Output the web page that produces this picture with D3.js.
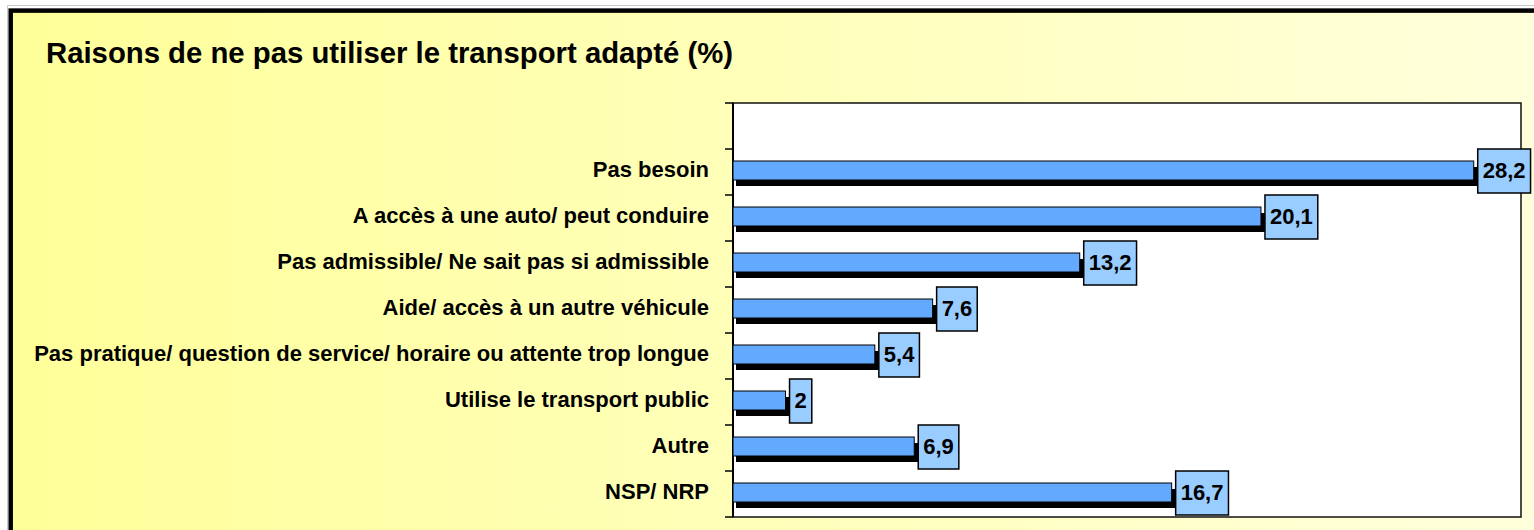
<!DOCTYPE html>
<html>
<head>
<meta charset="utf-8">
<script src="https://cdn.jsdelivr.net/npm/d3@7"></script>
<style>
  body { margin: 0; background: #fff; }
  text { font-family: "Liberation Sans", Arial, sans-serif; font-weight: bold; fill: #000; }
</style>
</head>
<body>
<svg id="chart" width="1534" height="530"></svg>
<script>
const title = "Raisons de ne pas utiliser le transport adapté (%)";
const categories = [
  "Pas besoin",
  "A accès à une auto/ peut conduire",
  "Pas admissible/ Ne sait pas si admissible",
  "Aide/ accès à un autre véhicule",
  "Pas pratique/ question de service/ horaire ou attente trop longue",
  "Utilise le transport public",
  "Autre",
  "NSP/ NRP"
];
const values = [28.2, 20.1, 13.2, 7.6, 5.4, 2, 6.9, 16.7];
const valueLabels = ["28,2", "20,1", "13,2", "7,6", "5,4", "2", "6,9", "16,7"];

const svg = d3.select("#chart");
const plot = { left: 733, right: 1521, top: 103, bottom: 517 };

// background gradient + frame
const defs = svg.append("defs");
const grad = defs.append("linearGradient").attr("id", "bg").attr("x1", "0").attr("x2", "1");
grad.append("stop").attr("offset", "0").attr("stop-color", "#ffff99");
grad.append("stop").attr("offset", "1").attr("stop-color", "#ffffdf");

svg.append("rect")
  .attr("x", 7.5).attr("y", 5.5).attr("width", 1600).attr("height", 600)
  .attr("fill", "none").attr("stroke", "#c8c8c8").attr("stroke-width", 1);
svg.append("rect")
  .attr("x", 10.7).attr("y", 10.6).attr("width", 1600).attr("height", 600)
  .attr("fill", "url(#bg)").attr("stroke", "#000").attr("stroke-width", 4.5);

svg.append("text")
  .attr("x", 46).attr("y", 63)
  .attr("font-size", 29.3)
  .text(title);

// scales (empty slot on top, like the source chart)
const x = d3.scaleLinear().domain([0, 30]).range([plot.left, plot.right]);
const y = d3.scaleBand().domain([""].concat(categories)).range([plot.top, plot.bottom]);
const step = y.step();

svg.append("rect")
  .attr("x", plot.left).attr("y", plot.top)
  .attr("width", plot.right - plot.left).attr("height", plot.bottom - plot.top)
  .attr("fill", "#fff").attr("stroke", "#111").attr("stroke-width", 1.5);

// ticks at band boundaries
const bounds = y.domain().map(d => y(d)).concat([plot.bottom]);
svg.append("g")
  .selectAll("line")
  .data(bounds)
  .join("line")
  .attr("x1", plot.left - 8).attr("x2", plot.left)
  .attr("y1", d => d).attr("y2", d => d)
  .attr("stroke", "#000").attr("stroke-width", 1.5);
svg.append("line")
  .attr("x1", plot.left).attr("x2", plot.left)
  .attr("y1", plot.top).attr("y2", plot.bottom)
  .attr("stroke", "#000").attr("stroke-width", 2);

const rows = categories.map((c, i) => ({ c, v: values[i], lab: valueLabels[i] }));
const barH = 19;
const cy = d => y(d.c) + step / 2;

// shadows
svg.append("g")
  .selectAll("rect")
  .data(rows)
  .join("rect")
  .attr("x", x(0) + 3)
  .attr("y", d => cy(d) - 11 + 6)
  .attr("width", d => x(d.v) - x(0) + 1)
  .attr("height", barH)
  .attr("fill", "#000");

// bars
svg.append("g")
  .selectAll("rect")
  .data(rows)
  .join("rect")
  .attr("x", x(0))
  .attr("y", d => cy(d) - 11)
  .attr("width", d => x(d.v) - x(0))
  .attr("height", barH)
  .attr("fill", "#63a9fd")
  .attr("stroke", "#000")
  .attr("stroke-width", 1);

// category labels
svg.append("g")
  .selectAll("text")
  .data(rows)
  .join("text")
  .attr("x", 709)
  .attr("y", d => cy(d) + 5)
  .attr("text-anchor", "end")
  .attr("font-size", 22)
  .text(d => d.c);

// value boxes
const lbl = svg.append("g")
  .selectAll("g")
  .data(rows)
  .join("g")
  .attr("transform", d => `translate(${x(d.v) + 4},${cy(d)})`);
const txt = lbl.append("text")
  .attr("x", 5)
  .attr("y", 6)
  .attr("font-size", 22)
  .text(d => d.lab);
lbl.insert("rect", "text")
  .attr("x", 0)
  .attr("y", -23)
  .attr("height", 44)
  .attr("width", function(d, i) { return txt.nodes()[i].getComputedTextLength() + 10; })
  .attr("fill", "#99ccff")
  .attr("stroke", "#000")
  .attr("stroke-width", 1.5);
</script>
</body>
</html>
